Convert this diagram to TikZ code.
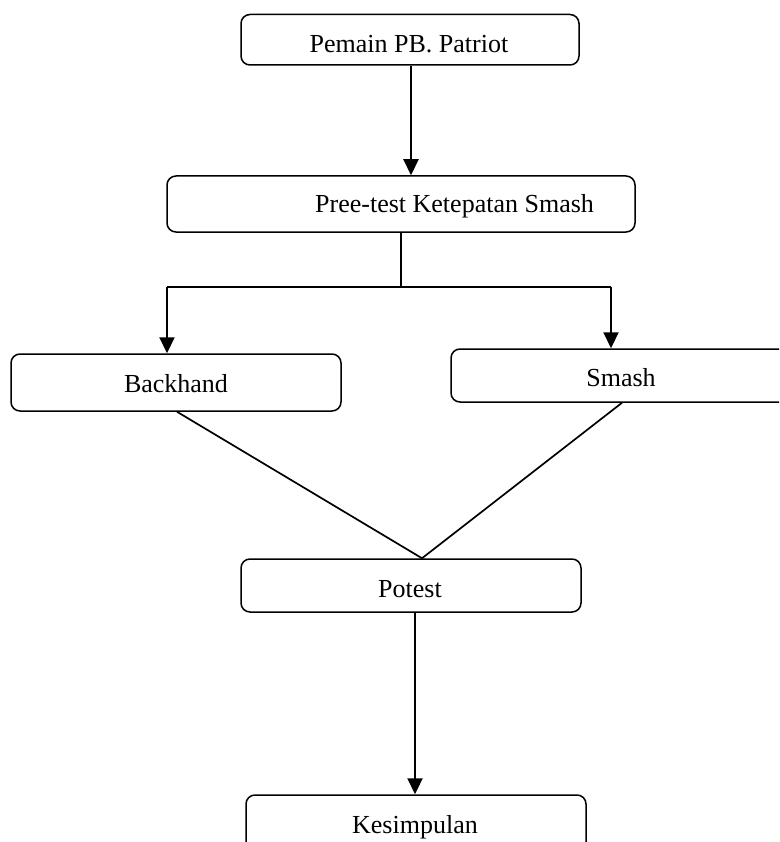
\documentclass[tikz,border=0pt]{standalone}
\usepackage{fontspec}
\setmainfont{Liberation Serif}
\usetikzlibrary{arrows.meta}
\begin{document}
\begin{tikzpicture}[x=1pt,y=-1pt,
  box/.style={draw, line width=1.5pt, rounded corners=9pt, inner sep=0pt},
  lbl/.style={inner sep=0pt, font=\fontsize{26}{30}\selectfont},
  arr/.style={line width=2.2pt, -{Triangle[length=16pt,width=15pt]}},
  ln/.style={line width=2.2pt},
  diag/.style={line width=1.7pt}]
\useasboundingbox (0,0) rectangle (779,842);
\clip (0,0) rectangle (779,842);
% boxes
\node[box, minimum width=338pt, minimum height=50.5pt] (b1) at (410,39.75) {};
\node[box, minimum width=468pt, minimum height=56pt] (b2) at (401,204) {};
\node[box, minimum width=330pt, minimum height=57pt] (b3) at (176,382.5) {};
\node[box, minimum width=349pt, minimum height=53pt] (b4) at (625.5,375.5) {};
\node[box, minimum width=340pt, minimum height=53pt] (b5) at (411,585.5) {};
\node[box, minimum width=340pt, minimum height=56pt] (b6) at (416,823) {};
% labels
\node[lbl, anchor=base] (t1) at (409,53) {Pemain PB. Patriot};
\node[lbl, anchor=base west] (t2) at (315,213) {Pree-test Ketepatan Smash};
\node[lbl, anchor=base] (t3) at (176,392) {Backhand};
\node[lbl, anchor=base] (t4) at (621,386) {Smash};
\node[lbl, anchor=base] (t5) at (410,597) {Potest};
\node[lbl, anchor=base] (t6) at (415,833) {Kesimpulan};
% connectors
\coordinate (j) at (401,287);
\coordinate (jl) at (167,287);
\coordinate (jr) at (611,287);
\draw[arr] (b1.south -| 411,0) -- (b2.north -| 411,0);
\draw[ln] (b2.south -| j) -- (j);
\draw[ln] (jl) -- (jr);
\draw[arr] (jl) -- (b3.north -| jl);
\draw[arr] (jr) -- (b4.north -| jr);
\draw[diag] (b3.south -| 177,0) -- (b5.north -| 422,0);
\draw[diag] (b4.south -| 622,0) -- (b5.north -| 422,0);
\draw[arr] (b5.south -| 415,0) -- (b6.north -| 415,0);
\end{tikzpicture}
\end{document}
